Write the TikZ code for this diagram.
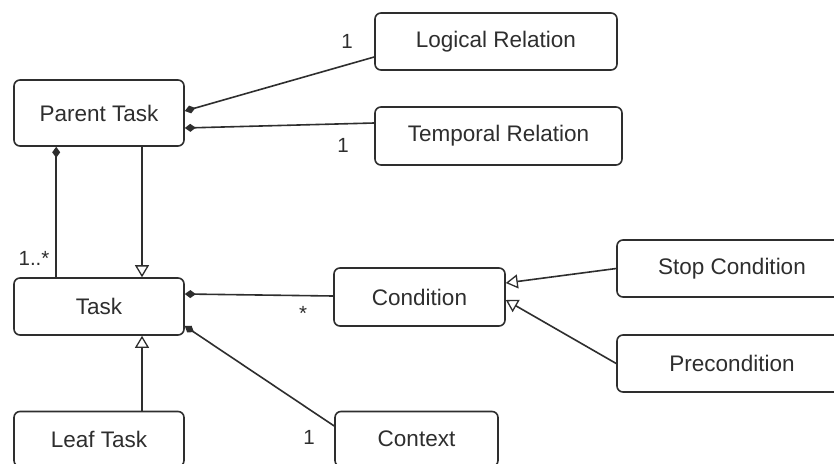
\documentclass[tikz,border=0pt]{standalone}
\usepackage{fontspec}
\setmainfont{Liberation Sans}
\usetikzlibrary{arrows.meta}
\definecolor{ln}{HTML}{2E2E2E}
\definecolor{tx}{HTML}{2E2E2E}
\tikzset{
  cls/.style={draw=ln, line width=1.6pt, rounded corners=6pt, fill=white, text=tx,
    font=\fontsize{22.5}{26}\selectfont, inner sep=0pt},
  lbl/.style={text=tx, font=\fontsize{20.5}{24}\selectfont, inner sep=0pt},
  conn/.style={draw=ln, line width=1.6pt},
  comp/.style={conn, {Diamond[length=11pt,width=8pt]}-},
  gen/.style={conn, -{Triangle[open,length=12pt,width=14pt,line width=1.3pt]}}
}
\begin{document}
\begin{tikzpicture}[x=1pt,y=-1pt]
\useasboundingbox (0,0) rectangle (834,463);
\clip (0,0) rectangle (834,463);
\fill[white] (0,0) rectangle (834,463);
\node[cls, minimum width=170pt, minimum height=66pt] (pt) at (99,113) {Parent Task};
\node[cls, minimum width=170pt, minimum height=57pt] (task) at (99,306.5) {Task};
\node[cls, minimum width=170pt, minimum height=55pt] (leaf) at (99,439) {Leaf Task};
\node[cls, minimum width=242pt, minimum height=57pt] (logic) at (496,41.5) {Logical Relation};
\node[cls, minimum width=247pt, minimum height=58pt] (temp) at (498.5,136) {Temporal Relation};
\node[cls, minimum width=171pt, minimum height=58pt] (cond) at (419.5,297) {Condition};
\node[cls, minimum width=230pt, minimum height=57pt] (stop) at (732,268.5) {Stop Condition};
\node[cls, minimum width=230pt, minimum height=57pt] (pre) at (732,363.5) {Precondition};
\node[cls, minimum width=163pt, minimum height=55pt] (ctx) at (416.5,439) {Context};

\draw[comp] ([yshift=2pt]pt.east) -- ([yshift=-15.5pt]logic.west);
\draw[comp] ([yshift=-15pt]pt.east) -- ([yshift=13pt]temp.west);
\draw[comp] ([xshift=43pt]pt.south west) -- ([xshift=43pt]task.north west);
\draw[gen] ([xshift=43pt]pt.south) -- ([xshift=43pt]task.north);
\draw[gen] ([xshift=43pt]leaf.north) -- ([xshift=43pt]task.south);
\draw[comp] ([yshift=12.5pt]task.east) -- ([yshift=1pt]cond.west);
\draw[comp] ([yshift=-19.5pt]task.east) -- ([yshift=13pt]ctx.west);
\draw[gen] (stop.west) -- ([yshift=14pt]cond.east);
\draw[gen] (pre.west) -- ([yshift=-3pt]cond.east);

\node[lbl] (l1) at (347,41) {1};
\node[lbl] (l2) at (343,145) {1};
\node[lbl] (l3) at (34,258) {1..*};
\node[lbl] (l4) at (303,313) {*};
\node[lbl] (l5) at (309,437) {1};
\end{tikzpicture}
\end{document}
